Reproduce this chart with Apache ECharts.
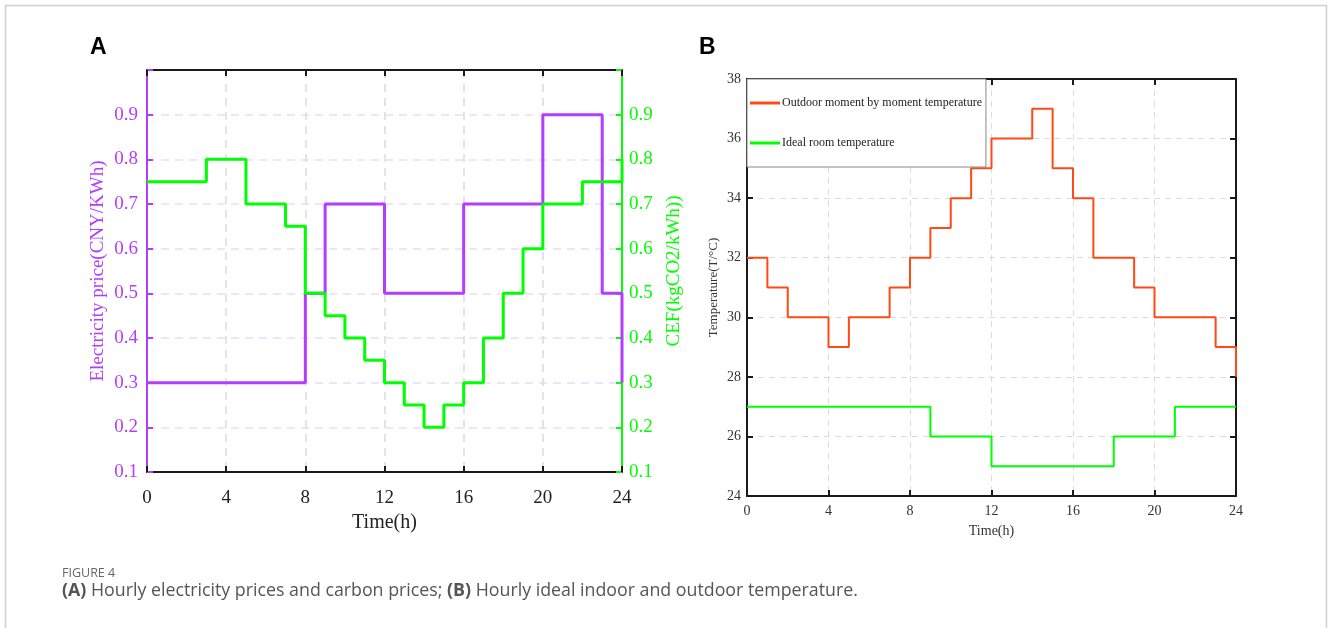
<!DOCTYPE html>
<html>
<head>
<meta charset="utf-8">
<script src="https://cdn.jsdelivr.net/npm/echarts@6/dist/echarts.min.js"></script>
<style>
  html, body { margin: 0; padding: 0; background: #fff; }
  #chart { width: 1328px; height: 628px; }
</style>
</head>
<body>
<div id="chart"></div>
<script>
// hours 0..24, value at hour i holds until i+1 (stairs)
var hours = [0,1,2,3,4,5,6,7,8,9,10,11,12,13,14,15,16,17,18,19,20,21,22,23,24];
var priceVals = [0.3,0.3,0.3,0.3,0.3,0.3,0.3,0.3,0.5,0.7,0.7,0.7,0.5,0.5,0.5,0.5,0.7,0.7,0.7,0.7,0.9,0.9,0.9,0.5,0.3];
var cefVals = [0.75,0.75,0.75,0.8,0.8,0.7,0.7,0.65,0.5,0.45,0.4,0.35,0.3,0.25,0.2,0.25,0.3,0.4,0.5,0.6,0.7,0.7,0.75,0.75,0.8];
var outdoorVals = [32,31,30,30,29,30,30,31,32,33,34,35,36,36,37,35,34,32,32,31,30,30,30,29,28];
var idealVals = [27,27,27,27,27,27,27,27,27,26,26,26,25,25,25,25,25,25,26,26,26,27,27,27,27];

var PURPLE = '#b43cff';
var GREEN = '#00ff00';
var ORANGE = '#ff4a14';
var SERIF = '"Liberation Serif", "DejaVu Serif", serif';

function pairs(vals) {
    var out = [];
    for (var i = 0; i < hours.length; i++) {
        out.push([hours[i], vals[i]]);
    }
    return out;
}

function dec1(v) {
    if (v > 0.95) {
        return '';
    }
    return v.toFixed(1);
}

var chart = echarts.init(document.getElementById('chart'));

var option = {
    backgroundColor: '#fff',
    animation: false,
    grid: [
        { left: 147, top: 70, width: 475, height: 402 },
        { left: 747, top: 79, width: 489, height: 417 }
    ],
    legend: {
        data: ['Outdoor moment by moment temperature', 'Ideal room temperature'],
        left: 747,
        top: 79,
        orient: 'vertical',
        icon: 'rect',
        itemWidth: 30,
        itemHeight: 3,
        itemGap: 28,
        padding: [18, 4, 18, 3],
        backgroundColor: '#fff',
        borderColor: '#888',
        borderWidth: 1,
        textStyle: { fontFamily: SERIF, fontSize: 12, color: '#222', padding: [0, 0, 0, -3] }
    },
    xAxis: [
        {
            gridIndex: 0, type: 'value', min: 0, max: 24, interval: 4,
            name: 'Time(h)', nameLocation: 'middle', nameGap: 41,
            nameTextStyle: { fontFamily: SERIF, fontSize: 20, color: '#222' },
            axisLine: { onZero: false, lineStyle: { color: '#1a1a1a', width: 2 } },
            axisTick: { inside: true, length: 6, lineStyle: { color: '#1a1a1a', width: 2 } },
            axisLabel: { fontFamily: SERIF, fontSize: 19, color: '#222', margin: 17 },
            splitLine: { show: true, lineStyle: { color: '#dcdcdc', type: [8, 6], width: 1.5 } }
        },
        {
            gridIndex: 0, type: 'value', min: 0, max: 24, interval: 4, position: 'top',
            axisLine: { onZero: false, lineStyle: { color: '#1a1a1a', width: 2 } },
            axisTick: { inside: true, length: 6, lineStyle: { color: '#1a1a1a', width: 2 } },
            axisLabel: { show: false },
            splitLine: { show: false }
        },
        {
            gridIndex: 1, type: 'value', min: 0, max: 24, interval: 4,
            name: 'Time(h)', nameLocation: 'middle', nameGap: 28,
            nameTextStyle: { fontFamily: SERIF, fontSize: 14, color: '#333' },
            axisLine: { onZero: false, lineStyle: { color: '#1a1a1a', width: 2 } },
            axisTick: { inside: true, length: 6, lineStyle: { color: '#1a1a1a', width: 2 } },
            axisLabel: { fontFamily: SERIF, fontSize: 14, color: '#333', margin: 8 },
            splitLine: { show: true, lineStyle: { color: '#dcdcdc', type: [6, 5], width: 1 } }
        },
        {
            gridIndex: 1, type: 'value', min: 0, max: 24, interval: 4, position: 'top',
            axisLine: { onZero: false, lineStyle: { color: '#1a1a1a', width: 2 } },
            axisTick: { inside: true, length: 6, lineStyle: { color: '#1a1a1a', width: 2 } },
            axisLabel: { show: false },
            splitLine: { show: false }
        }
    ],
    yAxis: [
        {
            gridIndex: 0, type: 'value', min: 0.1, max: 1.0, interval: 0.1,
            name: 'Electricity price(CNY/KWh)', nameLocation: 'middle', nameGap: 39, nameRotate: 90,
            nameTextStyle: { fontFamily: SERIF, fontSize: 19, color: PURPLE },
            axisLine: { onZero: false, lineStyle: { color: PURPLE, width: 2 } },
            axisTick: { inside: true, length: 6, lineStyle: { color: PURPLE, width: 2 } },
            axisLabel: { fontFamily: SERIF, fontSize: 19, color: PURPLE, margin: 9, formatter: dec1 },
            splitLine: { show: true, lineStyle: { color: '#f0d9fb', type: [8, 6], width: 1.5 } }
        },
        {
            gridIndex: 0, type: 'value', min: 0.1, max: 1.0, interval: 0.1, position: 'right',
            name: 'CEF(kgCO2/kWh))', nameLocation: 'middle', nameGap: 43, nameRotate: 90,
            nameTextStyle: { fontFamily: SERIF, fontSize: 19, color: GREEN },
            axisLine: { onZero: false, lineStyle: { color: GREEN, width: 2 } },
            axisTick: { inside: true, length: 6, lineStyle: { color: GREEN, width: 2 } },
            axisLabel: { fontFamily: SERIF, fontSize: 19, color: GREEN, margin: 7, formatter: dec1 },
            splitLine: { show: false }
        },
        {
            gridIndex: 1, type: 'value', min: 24, max: 38, interval: 2,
            name: 'Temperature(T/°C)', nameLocation: 'middle', nameGap: 27, nameRotate: 90,
            nameTextStyle: { fontFamily: SERIF, fontSize: 13, color: '#333' },
            axisLine: { onZero: false, lineStyle: { color: '#1a1a1a', width: 2 } },
            axisTick: { inside: true, length: 6, lineStyle: { color: '#1a1a1a', width: 2 } },
            axisLabel: { fontFamily: SERIF, fontSize: 14, color: '#333', margin: 6 },
            splitLine: { show: true, lineStyle: { color: '#dcdcdc', type: [6, 5], width: 1 } }
        },
        {
            gridIndex: 1, type: 'value', min: 24, max: 38, interval: 2, position: 'right',
            axisLine: { onZero: false, lineStyle: { color: '#1a1a1a', width: 2 } },
            axisTick: { inside: true, length: 6, lineStyle: { color: '#1a1a1a', width: 2 } },
            axisLabel: { show: false },
            splitLine: { show: false }
        }
    ],
    series: [
        {
            name: 'Electricity price', type: 'line', step: 'end',
            xAxisIndex: 0, yAxisIndex: 0, data: pairs(priceVals),
            showSymbol: false, clip: false,
            lineStyle: { color: PURPLE, width: 3 }, itemStyle: { color: PURPLE }
        },
        {
            name: 'CEF', type: 'line', step: 'end',
            xAxisIndex: 0, yAxisIndex: 1, data: pairs(cefVals),
            showSymbol: false, clip: false,
            lineStyle: { color: GREEN, width: 3 }, itemStyle: { color: GREEN }
        },
        {
            name: 'Outdoor moment by moment temperature', type: 'line', step: 'end',
            xAxisIndex: 2, yAxisIndex: 2, data: pairs(outdoorVals),
            showSymbol: false, clip: false,
            lineStyle: { color: ORANGE, width: 2 }, itemStyle: { color: ORANGE }
        },
        {
            name: 'Ideal room temperature', type: 'line', step: 'end',
            xAxisIndex: 2, yAxisIndex: 2, data: pairs(idealVals),
            showSymbol: false, clip: false,
            lineStyle: { color: GREEN, width: 2 }, itemStyle: { color: GREEN }
        }
    ],
    graphic: [
        {
            type: 'rect', silent: true, z: -1,
            shape: { x: 5.5, y: 5.5, width: 1321, height: 700 },
            style: { fill: null, stroke: '#d0d0d0', lineWidth: 1.5 }
        },
        {
            type: 'text', left: 90, top: 36,
            style: { text: 'A', font: 'bold 23px Arial, "Liberation Sans", sans-serif', fill: '#000' }
        },
        {
            type: 'text', left: 699, top: 36,
            style: { text: 'B', font: 'bold 23px Arial, "Liberation Sans", sans-serif', fill: '#000' }
        },
        {
            type: 'text', left: 62, top: 567,
            style: { text: 'FIGURE 4', font: '12.5px "Open Sans", sans-serif', fill: '#666' }
        },
        {
            type: 'text', left: 62, top: 582,
            style: {
                text: '{b|(A)} Hourly electricity prices and carbon prices; {b|(B)} Hourly ideal indoor and outdoor temperature.',
                font: '17.8px "Open Sans", sans-serif',
                fill: '#555',
                rich: {
                    b: { fontFamily: '"Open Sans", sans-serif', fontSize: 17.8, fontWeight: 'bold', fill: '#555' }
                }
            }
        }
    ]
};

chart.setOption(option);
</script>
</body>
</html>
